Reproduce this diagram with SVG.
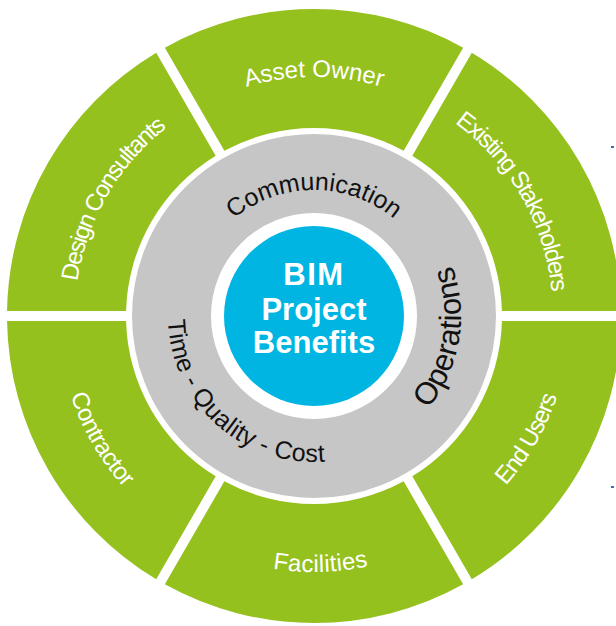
<svg xmlns="http://www.w3.org/2000/svg" width="616" height="626" viewBox="0 0 616 626">
  <style>
    .seg { fill: #95c11f; }
    .lbl { font-family: "Liberation Sans", Arial, sans-serif; font-size: 24px; fill: #ffffff; }
    .ring-lbl { font-family: "Liberation Sans", Arial, sans-serif; fill: #111111; }
    .hub { font-family: "Liberation Sans", Arial, sans-serif; font-weight: bold; font-size: 31px; fill: #ffffff; text-anchor: middle; }
  </style>
  <defs>
    <!-- label baselines, all centred on (314,316) -->
    <path id="arc-asset" d="M107.02 196.5 A239 239 0 0 1 520.98 196.5"/>
    <path id="arc-design" d="M107.02 435.5 A239 239 0 0 1 314 77"/>
    <path id="arc-existing" d="M314 77 A239 239 0 0 1 520.98 435.5"/>
    <path id="arc-facilities" d="M95.72 449.76 A256 256 0 0 0 538.98 438.15"/>
    <path id="arc-contractor" d="M92.30 188 A256 256 0 0 0 314 572"/>
    <path id="arc-endusers" d="M314 572 A256 256 0 0 0 535.70 188"/>
    <path id="arc-comm" d="M204.88 253 A126 126 0 0 1 423.12 253"/>
    <path id="arc-ops" d="M365.48 453.69 A147 147 0 0 0 407.50 202.57"/>
    <path id="arc-tqc" d="M171.19 285.65 A146 146 0 0 0 359.12 454.85"/>
  </defs>

  <rect width="616" height="626" fill="#ffffff"/>

  <!-- outer ring: six stakeholder segments -->
  <g id="end-users">
    <path class="seg" d="M620.959 321 A307 307 0 0 1 471.810 579.334 L412.297 476.255 A188 188 0 0 0 501.933 321 Z"/>
    <text class="lbl" letter-spacing="-1"><textPath href="#arc-endusers" startOffset="50%" text-anchor="middle">End Users</textPath></text>
  </g>
  <g id="facilities">
    <path class="seg" d="M463.150 584.334 A307 307 0 0 1 164.850 584.334 L224.363 481.255 A188 188 0 0 0 403.637 481.255 Z"/>
    <text class="lbl" letter-spacing="0.3"><textPath href="#arc-facilities" startOffset="50%" text-anchor="middle">Facilities</textPath></text>
  </g>
  <g id="contractor">
    <path class="seg" d="M156.190 579.334 A307 307 0 0 1 7.041 321 L126.067 321 A188 188 0 0 0 215.703 476.255 Z"/>
    <text class="lbl" letter-spacing="-0.5"><textPath href="#arc-contractor" startOffset="50%" text-anchor="middle">Contractor</textPath></text>
  </g>
  <g id="design-consultants">
    <path class="seg" d="M7.041 311 A307 307 0 0 1 156.190 52.666 L215.703 155.745 A188 188 0 0 0 126.067 311 Z"/>
    <text class="lbl" letter-spacing="-1.5"><textPath href="#arc-design" startOffset="50%" text-anchor="middle">Design Consultants</textPath></text>
  </g>
  <g id="asset-owner">
    <path class="seg" d="M164.850 47.666 A307 307 0 0 1 463.150 47.666 L403.637 150.745 A188 188 0 0 0 224.363 150.745 Z"/>
    <text class="lbl"><textPath href="#arc-asset" startOffset="50%" text-anchor="middle">Asset Owner</textPath></text>
  </g>
  <g id="existing-stakeholders">
    <path class="seg" d="M471.810 52.666 A307 307 0 0 1 620.959 311 L501.933 311 A188 188 0 0 0 412.297 155.745 Z"/>
    <text class="lbl" letter-spacing="-1.5"><textPath href="#arc-existing" startOffset="50%" text-anchor="middle">Existing Stakeholders</textPath></text>
  </g>

  <!-- middle ring: benefit themes -->
  <g id="benefit-ring">
    <circle cx="314" cy="316" r="142.5" fill="none" stroke="#c6c6c6" stroke-width="79"/>
    <text class="ring-lbl" font-size="25"><textPath href="#arc-comm" startOffset="50%" text-anchor="middle">Communication</textPath></text>
    <text class="ring-lbl" font-size="31"><textPath href="#arc-ops" startOffset="50%" text-anchor="middle">Operations</textPath></text>
    <text class="ring-lbl" font-size="25" letter-spacing="0.4"><textPath href="#arc-tqc" startOffset="50%" text-anchor="middle">Time - Quality - Cost</textPath></text>
  </g>

  <!-- hub -->
  <g id="bim-hub">
    <circle cx="314" cy="316" r="90" fill="#00b5e2"/>
    <text class="hub" x="314" y="285" font-size="32" letter-spacing="1.5">BIM</text>
    <text class="hub" x="314" y="320">Project</text>
    <text class="hub" x="314" y="353">Benefits</text>
  </g>

  <!-- small marks at the right edge -->
  <g id="edge-marks" fill="#3a6fb0">
    <rect x="611" y="146" width="3" height="2"/>
    <rect x="611" y="486" width="3" height="2"/>
  </g>
</svg>
